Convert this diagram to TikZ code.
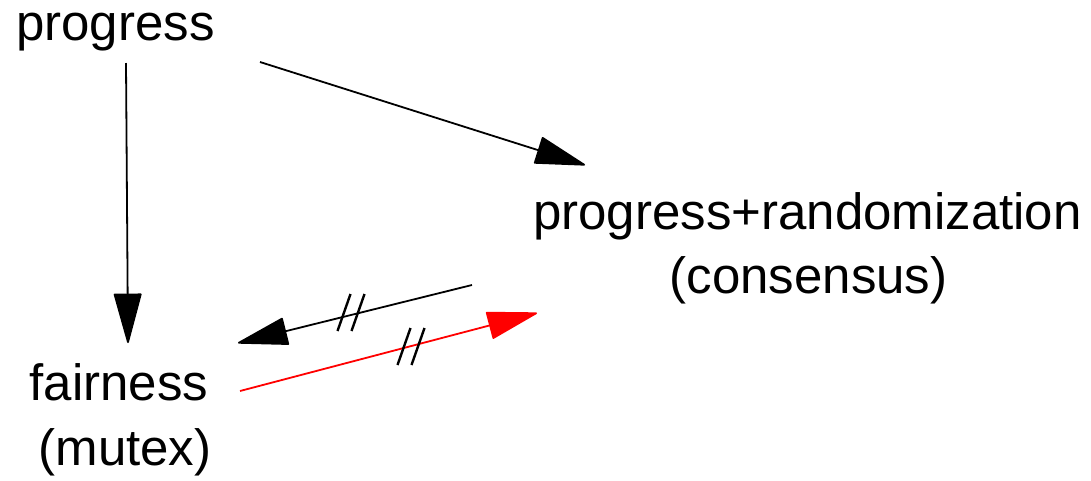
\documentclass[tikz,border=0pt]{standalone}
\usepackage{fontspec}
\setmainfont{Liberation Sans}
\usetikzlibrary{arrows.meta}
\begin{document}
\begin{tikzpicture}[x=1pt,y=-1pt,
  lbl/.style={inner sep=0pt,anchor=base,font=\fontsize{51}{61}\selectfont},
  conn/.style={line width=1.8pt,-{Triangle[length=52pt,width=28pt,round]}},
  tick/.style={line width=2.4pt}]
\useasboundingbox (0,0) rectangle (1091,480);
\node[lbl] (prog) at (115.5,40) {progress};
\node[lbl] (rand) at (807.5,229) {progress+randomization};
\node[lbl] (cons) at (808.5,293) {(consensus)};
\node[lbl] (fair) at (119,400) {fairness};
\node[lbl] (mutex) at (125,465) {(mutex)};
\coordinate (pv) at (126,63);
\coordinate (fv) at (128,343);
\coordinate (pd) at (260,62);
\coordinate (cd) at (585,165);
\coordinate (cb) at (472,285);
\coordinate (fb) at (238,343);
\coordinate (fr) at (240,391);
\coordinate (cr) at (537,313);
\draw[conn] (pv) -- (fv);
\draw[conn] (pd) -- (cd);
\draw[conn] (cb) -- (fb);
\draw[conn,red] (fr) -- (cr);
\coordinate (m1) at (351,312.5);
\coordinate (m2) at (411,346.5);
\foreach \m in {m1,m2}{
  \draw[tick] ([shift={(-7+6.5,-18.5)}]\m) -- ([shift={(-7-6.5,18.5)}]\m);
  \draw[tick] ([shift={(7+6.5,-18.5)}]\m) -- ([shift={(7-6.5,18.5)}]\m);
}
\end{tikzpicture}
\end{document}
